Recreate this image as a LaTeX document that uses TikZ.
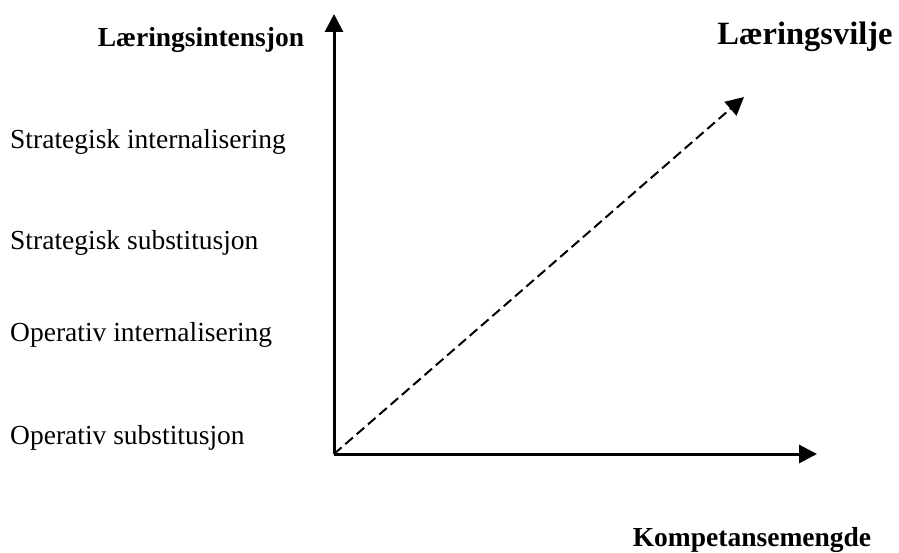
\documentclass[tikz,border=0pt]{standalone}
\usepackage{fontspec}
\setmainfont{Liberation Serif}
\usepackage{tikz}
\usetikzlibrary{arrows.meta}

\begin{document}
\begin{tikzpicture}[x=1pt, y=-1pt]
\tikzstyle{axis}=[line width=3pt, -{Triangle[length=18pt, width=18pt]}]
\tikzstyle{trend}=[line width=2pt, dash pattern=on 10pt off 5pt, -{Triangle[length=18pt, width=18pt]}]
\tikzstyle{level}=[anchor=west, inner sep=0pt, font=\fontsize{27.5}{30}\selectfont]
\tikzstyle{heading}=[inner sep=0pt, font=\fontsize{27.5}{30}\selectfont\bfseries]
\useasboundingbox (0,0) rectangle (899,553);

\coordinate (origin) at (334,454);
\coordinate (ytop) at (334,14);
\coordinate (xend) at (817,454);
\coordinate (wish) at (744,97);

\node[heading] (intensity) at (201,40) {Læringsintensjon};
\node[heading, font=\fontsize{32.5}{36}\selectfont\bfseries] (will) at (805,37) {Læringsvilje};
\node[heading] (amount) at (752,540) {Kompetansemengde};

\node[level] (si) at (10,142) {Strategisk internalisering};
\node[level] (ss) at (10,243) {Strategisk substitusjon};
\node[level] (oi) at (10,335) {Operativ internalisering};
\node[level] (os) at (10,438) {Operativ substitusjon};

\draw[axis] (origin) -- (ytop);
\draw[axis] (origin) -- (xend);
\draw[trend] (origin) -- (wish);

\end{tikzpicture}
\end{document}
